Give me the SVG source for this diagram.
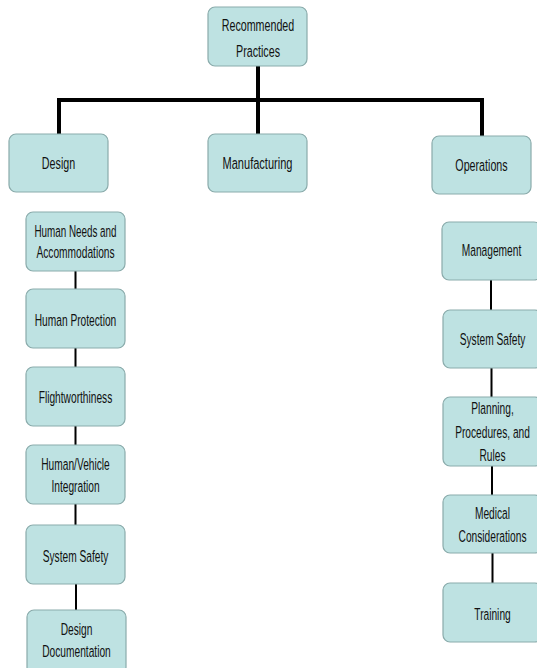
<svg xmlns="http://www.w3.org/2000/svg" width="537" height="668" viewBox="0 0 537 668">
<style>
.box{fill:#bee2e2;stroke:#8aabab;stroke-width:1.2}
.t{font-family:"Liberation Sans",Arial,sans-serif;font-size:17px;fill:#111;text-anchor:middle}
.main{stroke:#000;stroke-width:4;fill:none}
.sub{stroke:#000;stroke-width:2;fill:none}
</style>
<rect width="537" height="668" fill="#fff"/>
<g id="connectors">
<path class="main" d="M258 66V100M57 100H484M59 98V134M258 100V134M482 98V136"/>
<path class="sub" d="M75.5 271V290M75.5 348V367M75.5 426V445M75.5 504V525M76 584V610"/>
<path class="sub" d="M491 280V310M491.5 368V397M492 466V495M492.5 553V583"/>
</g>
<g id="n-root"><rect class="box" x="208" y="7" width="99" height="59" rx="7"/>
<text class="t" transform="translate(258,31) scale(0.63,1)">Recommended</text>
<text class="t" transform="translate(258,57) scale(0.63,1)">Practices</text></g>
<g id="n-design"><rect class="box" x="9" y="134" width="99" height="58" rx="7"/>
<text class="t" transform="translate(58.5,169) scale(0.63,1)">Design</text></g>
<g id="n-manufacturing"><rect class="box" x="208" y="134" width="99" height="58" rx="7"/>
<text class="t" transform="translate(257.5,169) scale(0.65,1)">Manufacturing</text></g>
<g id="n-operations"><rect class="box" x="432" y="136" width="99" height="58" rx="7"/>
<text class="t" transform="translate(481.5,171) scale(0.63,1)">Operations</text></g>

<g id="n-human-needs"><rect class="box" x="26" y="212" width="99" height="59" rx="7"/>
<text class="t" transform="translate(75.5,237) scale(0.58,1)">Human Needs and</text>
<text class="t" transform="translate(75.5,258) scale(0.6,1)">Accommodations</text></g>
<g id="n-human-protection"><rect class="box" x="26" y="289" width="99" height="59" rx="7"/>
<text class="t" transform="translate(75.5,326) scale(0.6,1)">Human Protection</text></g>
<g id="n-flightworthiness"><rect class="box" x="26" y="367" width="99" height="59" rx="7"/>
<text class="t" transform="translate(75.5,403) scale(0.6,1)">Flightworthiness</text></g>
<g id="n-human-vehicle"><rect class="box" x="26" y="445" width="99" height="59" rx="7"/>
<text class="t" transform="translate(75.5,470) scale(0.6,1)">Human/Vehicle</text>
<text class="t" transform="translate(75.5,492) scale(0.6,1)">Integration</text></g>
<g id="n-system-safety-d"><rect class="box" x="26" y="525" width="99" height="59" rx="7"/>
<text class="t" transform="translate(75.5,562) scale(0.6,1)">System Safety</text></g>
<g id="n-design-doc"><rect class="box" x="27" y="610" width="99" height="64" rx="7"/>
<text class="t" transform="translate(76.5,635) scale(0.6,1)">Design</text>
<text class="t" transform="translate(76.5,657) scale(0.6,1)">Documentation</text></g>

<g id="n-management"><rect class="box" x="442" y="222" width="99" height="58" rx="7"/>
<text class="t" transform="translate(491.5,256) scale(0.6,1)">Management</text></g>
<g id="n-system-safety-o"><rect class="box" x="443" y="310" width="99" height="58" rx="7"/>
<text class="t" transform="translate(492.5,345) scale(0.6,1)">System Safety</text></g>
<g id="n-planning"><rect class="box" x="443" y="397" width="99" height="69" rx="7"/>
<text class="t" transform="translate(492.5,414) scale(0.6,1)">Planning,</text>
<text class="t" transform="translate(492.5,438) scale(0.6,1)">Procedures, and</text>
<text class="t" transform="translate(492.5,461) scale(0.6,1)">Rules</text></g>
<g id="n-medical"><rect class="box" x="443" y="495" width="99" height="58" rx="7"/>
<text class="t" transform="translate(492.5,519) scale(0.6,1)">Medical</text>
<text class="t" transform="translate(492.5,542) scale(0.6,1)">Considerations</text></g>
<g id="n-training"><rect class="box" x="443" y="583" width="99" height="59" rx="7"/>
<text class="t" transform="translate(492.5,620) scale(0.6,1)">Training</text></g>
</svg>
